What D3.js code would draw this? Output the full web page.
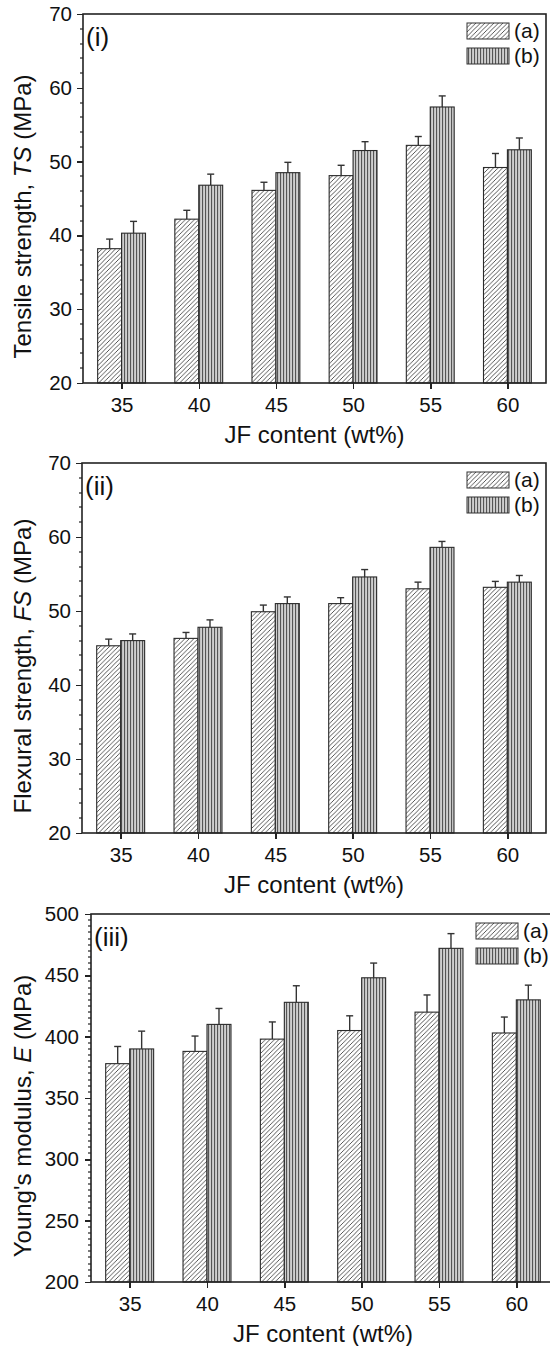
<!DOCTYPE html>
<html>
  <head>
    <meta charset="utf-8">
    <style>
      body {
          margin: 0;
          background: #fff;
          font-family: "Liberation Sans", Arial, sans-serif;
      }
      .axis path, .axis line {
          stroke: #222;
          shape-rendering: crispEdges;
      }
      .axis text {
          font-size: 20.5px;
          fill: #111;
      }
      .title {
          font-size: 24px;
          fill: #111;
      }
    </style>
  </head>
  <body>
    <script src="https://d3js.org/d3.v7.min.js"></script>
    <script>
      // data
      var content = [35, 40, 45, 50, 55, 60];

      var tsA = [38.2, 42.2, 46.1, 48.1, 52.2, 49.2],
          tsAErr = [1.3, 1.2, 1.1, 1.4, 1.2, 1.9],
          tsB = [40.3, 46.8, 48.5, 51.5, 57.4, 51.6],
          tsBErr = [1.6, 1.5, 1.4, 1.2, 1.5, 1.6];

      var fsA = [45.3, 46.3, 49.9, 51.0, 53.0, 53.2],
          fsAErr = [0.9, 0.8, 0.9, 0.8, 0.9, 0.8],
          fsB = [46.0, 47.8, 51.0, 54.6, 58.6, 53.9],
          fsBErr = [0.9, 1.0, 0.9, 1.0, 0.8, 0.9];

      var eA = [378, 388, 398, 405, 420, 403],
          eAErr = [14, 12.5, 14, 12, 14, 13],
          eB = [390, 410, 428, 448, 472, 430],
          eBErr = [14.5, 13, 13.5, 12, 12, 12];

      var xTicks = [35, 40, 45, 50, 55, 60];
      var legendNames = ["(a)", "(b)"];

      var panels = [
        {tag: "(i)", a: tsA, aErr: tsAErr, b: tsB, bErr: tsBErr,
         yDomain: [20, 70], yTicks: [20, 30, 40, 50, 60, 70], minor: 2,
         title: ["Tensile strength, ", "TS", " (MPa)"],
         left: 83, right: 546, top: 14, bottom: 383, labelRight: 72},
        {tag: "(ii)", a: fsA, aErr: fsAErr, b: fsB, bErr: fsBErr,
         yDomain: [20, 70], yTicks: [20, 30, 40, 50, 60, 70], minor: 2,
         title: ["Flexural strength, ", "FS", " (MPa)"],
         left: 82, right: 546, top: 463, bottom: 833, labelRight: 71},
        {tag: "(iii)", a: eA, aErr: eAErr, b: eB, bErr: eBErr,
         yDomain: [200, 500], yTicks: [200, 250, 300, 350, 400, 450, 500], minor: 5,
         title: ["Young's modulus, ", "E", " (MPa)"],
         left: 91, right: 555, top: 914, bottom: 1282, labelRight: 79}
      ];

      var barW = 1.55; // in x units

      var svg = d3.select("body").append("svg")
          .attr("width", 550)
          .attr("height", 1346);

      // hatch patterns
      var defs = svg.append("defs");
      var diag = defs.append("pattern")
          .attr("id", "diag")
          .attr("patternUnits", "userSpaceOnUse")
          .attr("width", 4.5).attr("height", 4.5);
      diag.append("rect").attr("width", 4.5).attr("height", 4.5).attr("fill", "#fff");
      diag.append("path")
          .attr("d", "M-1,1 l2,-2 M0,4.5 l4.5,-4.5 M3.5,5.5 l2,-2")
          .attr("stroke", "#444")
          .attr("stroke-width", 0.9);

      var vert = defs.append("pattern")
          .attr("id", "vert")
          .attr("patternUnits", "userSpaceOnUse")
          .attr("width", 3).attr("height", 3);
      vert.append("rect").attr("width", 3).attr("height", 3).attr("fill", "#cfcfcf");
      vert.append("rect").attr("x", 1).attr("width", 1.1).attr("height", 3).attr("fill", "#555");

      var fills = ["url(#diag)", "url(#vert)"];

      panels.forEach(function(p) {
          var x = d3.scaleLinear().domain([32.5, 62.5]).range([p.left, p.right]);
          var y = d3.scaleLinear().domain(p.yDomain).range([p.bottom, p.top]);
          var g = svg.append("g");

          var series = [
            {vals: p.a, errs: p.aErr, off: -barW, fill: fills[0]},
            {vals: p.b, errs: p.bErr, off: 0, fill: fills[1]}
          ];

          series.forEach(function(s) {
              var rows = content.map(function(c, i) {
                  return {c: c, v: s.vals[i], e: s.errs[i]};
              });

              // error bars (upper only)
              var eb = g.append("g").selectAll("g")
                  .data(rows).enter().append("g")
                  .attr("stroke", "#333").attr("stroke-width", 1.4);
              eb.append("line")
                  .attr("x1", function(d) { return x(d.c + s.off + barW / 2); })
                  .attr("x2", function(d) { return x(d.c + s.off + barW / 2); })
                  .attr("y1", function(d) { return y(d.v); })
                  .attr("y2", function(d) { return y(d.v + d.e); });
              eb.append("line")
                  .attr("x1", function(d) { return x(d.c + s.off + barW / 2) - 3.5; })
                  .attr("x2", function(d) { return x(d.c + s.off + barW / 2) + 3.5; })
                  .attr("y1", function(d) { return y(d.v + d.e); })
                  .attr("y2", function(d) { return y(d.v + d.e); });

              g.append("g").selectAll("rect")
                  .data(rows).enter().append("rect")
                  .attr("x", function(d) { return x(d.c + s.off); })
                  .attr("width", function(d) { return x(d.c + s.off + barW) - x(d.c + s.off); })
                  .attr("y", function(d) { return y(d.v); })
                  .attr("height", function(d) { return y(p.yDomain[0]) - y(d.v); })
                  .attr("fill", s.fill)
                  .attr("stroke", "#2a2a2a")
                  .attr("stroke-width", 1.1);
          });

          // frame
          g.append("rect")
              .attr("x", p.left).attr("y", p.top)
              .attr("width", p.right - p.left).attr("height", p.bottom - p.top)
              .attr("fill", "none")
              .attr("stroke", "#222")
              .attr("stroke-width", 1.6);

          // x axis
          var xa = g.append("g")
              .attr("class", "axis")
              .attr("transform", "translate(0," + p.bottom + ")")
              .call(d3.axisBottom(x).tickValues(xTicks).tickSize(6).tickSizeOuter(0).tickPadding(8));
          xa.select(".domain").remove();
          xa.selectAll("line").attr("stroke-width", 1.5);

          // y axis minor then major
          var minorVals = d3.range(p.yDomain[0], p.yDomain[1] + 0.001, p.minor)
              .filter(function(v) { return p.yTicks.indexOf(v) < 0; });
          g.append("g").selectAll("line")
              .data(minorVals).enter().append("line")
              .attr("x1", p.left - 3).attr("x2", p.left)
              .attr("y1", function(d) { return Math.round(y(d)); })
              .attr("y2", function(d) { return Math.round(y(d)); })
              .attr("stroke", "#222").attr("stroke-width", 1.2);

          var ya = g.append("g")
              .attr("class", "axis")
              .attr("transform", "translate(" + p.left + ",0)")
              .call(d3.axisLeft(y).tickValues(p.yTicks).tickSize(6).tickSizeOuter(0)
                    .tickPadding(p.left - p.labelRight - 6));
          ya.select(".domain").remove();
          ya.selectAll("line").attr("stroke-width", 1.5);

          // x title
          g.append("text")
              .attr("class", "title")
              .attr("x", (p.left + p.right) / 2)
              .attr("y", p.bottom + 60)
              .attr("text-anchor", "middle")
              .text("JF content (wt%)");

          // y title
          var yt = g.append("text")
              .attr("class", "title")
              .attr("text-anchor", "middle")
              .attr("transform", "translate(31," + ((p.top + p.bottom) / 2 + 18) + ") rotate(-90)");
          yt.append("tspan").text(p.title[0]);
          yt.append("tspan").style("font-style", "italic").text(p.title[1]);
          yt.append("tspan").text(p.title[2]);

          // panel tag
          g.append("text")
              .attr("class", "title")
              .attr("x", p.left + 3)
              .attr("y", p.top + 32)
              .style("font-size", "26px")
              .text(p.tag);

          // legend
          var lg = g.append("g").selectAll("g")
              .data(legendNames).enter().append("g")
              .attr("transform", function(d, i) {
                  return "translate(" + (p.right - 79) + "," + (p.top + 9 + i * 25) + ")";
              });
          lg.append("rect")
              .attr("width", 42).attr("height", 16)
              .attr("fill", function(d, i) { return fills[i]; })
              .attr("stroke", "#333").attr("stroke-width", 1);
          lg.append("text")
              .attr("x", 47).attr("y", 15)
              .style("font-size", "21px")
              .attr("fill", "#111")
              .text(function(d) { return d; });
      });
    </script>
  </body>
</html>
